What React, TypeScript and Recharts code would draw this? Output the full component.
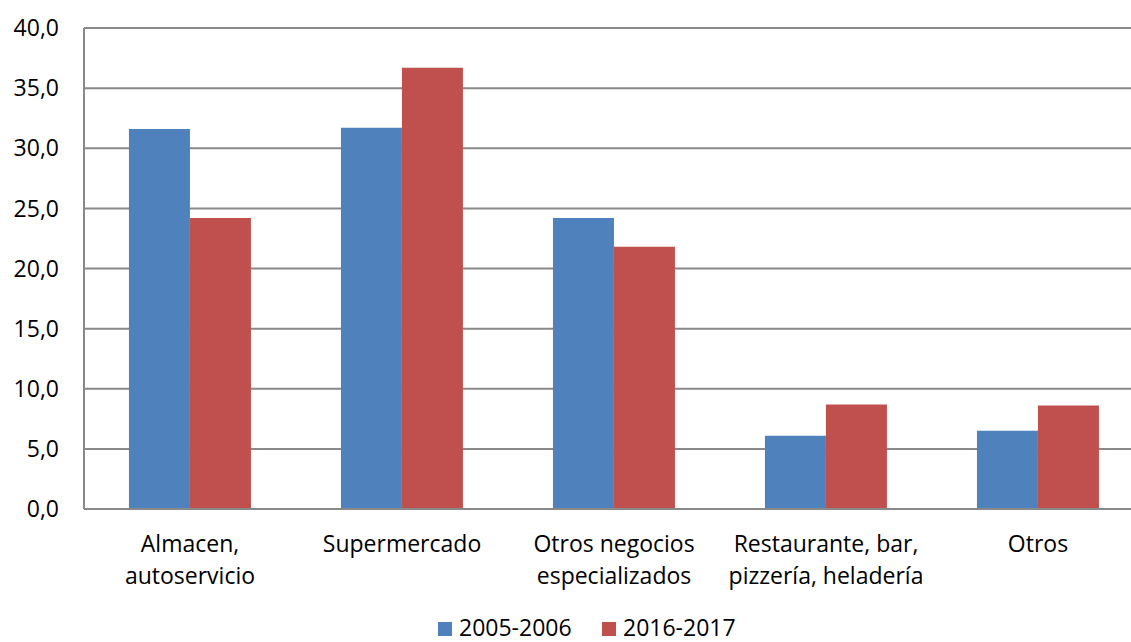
import { BarChart, Bar, XAxis, YAxis, CartesianGrid, Legend } from "recharts";

const categories = [
  "Almacen,\nautoservicio",
  "Supermercado",
  "Otros negocios\nespecializados",
  "Restaurante, bar,\npizzería, heladería",
  "Otros",
];
const serie2005 = [31.6, 31.7, 24.2, 6.1, 6.5];
const serie2016 = [24.2, 36.7, 21.8, 8.7, 8.6];
const seriesNames = ["2005-2006", "2016-2017"];
const yTicks = [0, 5, 10, 15, 20, 25, 30, 35, 40];

const data = categories.map((name, i) => ({
  name,
  a: serie2005[i],
  b: serie2016[i],
}));

const FONT = "'Open Sans', sans-serif";
const GRID = "#898989";

function CategoryTick(props: any) {
  const { x, y, payload } = props;
  const lines = String(payload.value).split("\n");
  return (
    <g transform={`translate(${x},${y})`}>
      {lines.map((line: string, i: number) => (
        <text
          key={i}
          x={0}
          y={43 + i * 32}
          textAnchor="middle"
          fill="#000"
          fontSize={23}
          fontFamily={FONT}
        >
          {line}
        </text>
      ))}
    </g>
  );
}

function LegendContent(props: any) {
  const items = props.payload || [];
  let x = 438;
  return (
    <svg width={1150} height={30} style={{ display: "block" }}>
      {items.map((item: any, i: number) => {
        const start = x;
        x += 21 + 113 + 30;
        return (
          <g key={i}>
            <rect x={start} y={10} width={14} height={14} fill={item.color} />
            <text x={start + 21} y={24} fontSize={23} fontFamily={FONT} fill="#000">
              {item.value}
            </text>
          </g>
        );
      })}
    </svg>
  );
}

export default function App() {
  return (
    <div
      style={{
        position: "absolute",
        left: 0,
        top: 0,
        width: 1131,
        height: 642,
        overflow: "hidden",
        background: "#fff",
      }}
    >
      <BarChart
        width={1150}
        height={642}
        data={data}
        margin={{ top: 28, right: 6, bottom: 0, left: 0 }}
        barCategoryGap="21.2%"
        barGap={0}
        style={{ fontFamily: FONT }}
      >
        <CartesianGrid vertical={false} stroke={GRID} strokeWidth={2} />
        <XAxis
          dataKey="name"
          height={103}
          tick={<CategoryTick />}
          tickLine={false}
          tickSize={0}
          tickMargin={0}
          interval={0}
          axisLine={{ stroke: GRID, strokeWidth: 2 }}
        />
        <YAxis
          width={84}
          domain={[0, 40]}
          ticks={yTicks}
          tickLine={false}
          tickSize={0}
          tickMargin={25}
          axisLine={{ stroke: GRID, strokeWidth: 2 }}
          tick={{ fill: "#000", fontSize: 23, fontFamily: FONT }}
          tickFormatter={(v: number) => v.toFixed(1).replace(".", ",")}
        />
        <Legend
          verticalAlign="bottom"
          height={30}
          content={<LegendContent />}
          wrapperStyle={{ left: 0, width: 1150, height: 30 }}
        />
        <Bar dataKey="a" name={seriesNames[0]} fill="#4F81BD" isAnimationActive={false} />
        <Bar dataKey="b" name={seriesNames[1]} fill="#C0504D" isAnimationActive={false} />
      </BarChart>
    </div>
  );
}
